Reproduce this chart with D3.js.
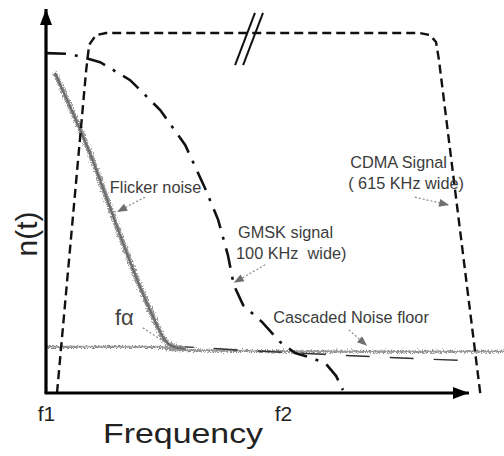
<!DOCTYPE html>
<html>
<head>
<meta charset="utf-8">
<script src="https://cdn.jsdelivr.net/npm/d3@7"></script>
<style>
body { margin: 0; background: #fff; }
text { font-family: "Liberation Sans", Arial, sans-serif; }
</style>
</head>
<body>
<script>
// frequency runs 0..100 (f1 = 0), level runs 0..100 (top of CDMA mask = 100)
var cdmaFreq  = [2.6, 9.5, 10.2, 11.8, 14.2, 88.4, 90.8, 92.2, 92.9, 102.8];
var cdmaLevel = [0, 89.7, 96.7, 99.4, 100, 100, 99.4, 97.5, 92.5, -1.4];

var gmskFreq  = [0, 5.7, 12.8, 19.9, 27.0, 32.9, 37.6, 40.7, 43.0, 44.4, 46.6, 51.1, 55.3, 58.9, 62.9, 66.2, 68.6, 70.2];
var gmskLevel = [94.4, 94.2, 91.9, 86.9, 78.6, 68.9, 56.9, 48.1, 38.3, 30.0, 24.4, 19.7, 14.2, 11.1, 9.7, 8.1, 4.7, 0.8];

var flickerFreq  = [2.1, 10.4, 16.8, 22.9, 26.5, 28.1, 29.8, 32.9];
var flickerLevel = [88.9, 67.5, 45.8, 27.2, 18.1, 14.2, 12.8, 12.2];

var floorFreq  = [0, 27.0, 30.5, 60.0, 108.3];
var floorLevel = [12.8, 12.8, 11.9, 11.5, 11.5];

// dark dashed continuation of the flicker corner under the floor
var tailFreq  = [29.3, 48.2, 83.7, 101.4];
var tailLevel = [13.1, 11.7, 9.7, 8.9];

var tickValues = [0, 56];
var tickLabels = ["f1", "f2"];
var xTitle = "Frequency";
var yTitle = "n(t)";

var labelTexts = [["Flicker noise"], ["GMSK signal", "100 KHz  wide)"], ["CDMA Signal", "( 615 KHz wide)"], ["Cascaded Noise floor"]];

var width = 504;
var height = 456;

var x = d3.scaleLinear().domain([0, 100]).range([46, 469]);
var y = d3.scaleLinear().domain([0, 100]).range([393, 33]);

var svg = d3.select("body").append("svg")
  .attr("width", width)
  .attr("height", height);

var defs = svg.append("defs");
// arrow heads
defs.append("marker").attr("id", "axisHead")
  .attr("viewBox", "0 0 16 12").attr("refX", 16).attr("refY", 6)
  .attr("markerWidth", 16).attr("markerHeight", 12)
  .attr("markerUnits", "userSpaceOnUse").attr("orient", "auto")
  .append("path").attr("d", "M0,0L16,6L0,12Z").attr("fill", "#000");
defs.append("marker").attr("id", "noteHead")
  .attr("viewBox", "0 0 10 8").attr("refX", 10).attr("refY", 4)
  .attr("markerWidth", 11).attr("markerHeight", 8)
  .attr("markerUnits", "userSpaceOnUse").attr("orient", "auto")
  .append("path").attr("d", "M0,0L10,4L0,8Z").attr("fill", "#6f6f6f");
// rough look for measured noise
var rough = defs.append("filter").attr("id", "rough")
  .attr("x", "-5%").attr("y", "-40%").attr("width", "110%").attr("height", "180%");
rough.append("feTurbulence").attr("type", "fractalNoise")
  .attr("baseFrequency", 0.8).attr("numOctaves", 2).attr("seed", 3).attr("result", "n");
rough.append("feDisplacementMap").attr("in", "SourceGraphic").attr("in2", "n")
  .attr("scale", 7).attr("xChannelSelector", "R").attr("yChannelSelector", "G");

var zip = function(a, b) { return a.map(function(v, i) { return [v, b[i]]; }); };
var line = d3.line().x(function(d) { return x(d[0]); }).y(function(d) { return y(d[1]); });
var smooth = d3.line().x(function(d) { return x(d[0]); }).y(function(d) { return y(d[1]); })
  .curve(d3.curveBasis);

// noise floor
var floor = zip(floorFreq, floorLevel);
svg.append("path").datum(floor)
  .attr("d", line).attr("fill", "none")
  .attr("stroke", "#8a8a8a").attr("stroke-width", 2.2)
  .attr("filter", "url(#rough)");
svg.append("path").datum(floor)
  .attr("d", line).attr("fill", "none")
  .attr("stroke", "#9a9a9a").attr("stroke-width", 1);
svg.append("path").datum(zip(tailFreq, tailLevel))
  .attr("d", smooth).attr("fill", "none")
  .attr("stroke", "#333").attr("stroke-width", 1.4)
  .attr("stroke-dasharray", "24,20");

// flicker noise
var flick = zip(flickerFreq, flickerLevel);
svg.append("path").datum(flick)
  .attr("d", smooth).attr("fill", "none")
  .attr("stroke", "#999").attr("stroke-width", 5)
  .attr("filter", "url(#rough)");
svg.append("path").datum(flick)
  .attr("d", smooth).attr("fill", "none")
  .attr("stroke", "#6a6a6a").attr("stroke-width", 2);

// CDMA mask
svg.append("path").datum(zip(cdmaFreq, cdmaLevel))
  .attr("d", line).attr("fill", "none")
  .attr("stroke", "#111").attr("stroke-width", 2.4)
  .attr("stroke-dasharray", "9,5");

// GMSK signal
svg.append("path").datum(zip(gmskFreq, gmskLevel))
  .attr("d", line).attr("fill", "none")
  .attr("stroke", "#111").attr("stroke-width", 2.6)
  .attr("stroke-dasharray", "20,9,3,9");

// frequency break mark
[44.7, 46.6].forEach(function(f) {
  svg.append("line")
    .attr("x1", x(f)).attr("y1", y(91.1))
    .attr("x2", x(f + 4.7)).attr("y2", y(105.6))
    .attr("stroke", "#111").attr("stroke-width", 2);
});

// axes
svg.append("line")
  .attr("x1", x(0)).attr("y1", y(0)).attr("x2", x(0)).attr("y2", y(106.7))
  .attr("stroke", "#000").attr("stroke-width", 3.2)
  .attr("marker-end", "url(#axisHead)");
svg.append("line")
  .attr("x1", x(0) - 1.5).attr("y1", y(0)).attr("x2", x(100)).attr("y2", y(0))
  .attr("stroke", "#000").attr("stroke-width", 3.2)
  .attr("marker-end", "url(#axisHead)");

var xAxis = d3.axisBottom(x).tickValues(tickValues).tickSize(0).tickPadding(13)
  .tickFormat(function(d, i) { return tickLabels[i]; });
var gx = svg.append("g").attr("transform", "translate(0," + y(0) + ")").call(xAxis);
gx.select(".domain").remove();
gx.selectAll("text").attr("font-size", 21).attr("fill", "#222")
  .attr("font-family", "Liberation Sans, Arial, sans-serif");

svg.append("text").attr("x", 103).attr("y", 443)
  .attr("font-size", 28).attr("fill", "#222")
  .attr("textLength", 160).attr("lengthAdjust", "spacingAndGlyphs")
  .text(xTitle);
svg.append("text")
  .attr("transform", "translate(37,234) rotate(-90)")
  .attr("text-anchor", "middle").attr("font-size", 30).attr("fill", "#222")
  .text(yTitle);

// annotations: label position, arrow start, arrow end (data units)
var notes = [
  { at: [15.1, 55.6], from: [23.4, 54.4], to: [16.8, 50.3] },
  { at: [45.4, 43.1], from: [51.8, 35.6], to: [44.4, 30.6] },
  { at: [71.9, 62.5], from: [87.2, 54.4], to: [95.3, 52.2] },
  { at: [53.7, 19.4], from: [71.6, 17.5], to: [75.9, 13.1] }
];
notes.forEach(function(n, i) {
  var t = svg.append("text").attr("x", x(n.at[0])).attr("y", y(n.at[1]))
    .attr("font-size", 16.3).attr("fill", "#3c3c3c");
  labelTexts[i].forEach(function(s, j) {
    t.append("tspan").attr("x", x(n.at[0]) - 2 * j).attr("dy", j ? 21 : 0)
      .attr("xml:space", "preserve").text(s);
  });
  svg.append("line")
    .attr("x1", x(n.from[0])).attr("y1", y(n.from[1]))
    .attr("x2", x(n.to[0])).attr("y2", y(n.to[1]))
    .attr("stroke", "#888").attr("stroke-width", 1.2)
    .attr("stroke-dasharray", "2,2")
    .attr("marker-end", "url(#noteHead)");
});

// f-alpha corner label
var fa = svg.append("text").attr("x", x(16.3)).attr("y", y(18.9))
  .attr("font-family", "Liberation Serif, serif").attr("font-size", 22).attr("fill", "#444");
fa.append("tspan").text("f");
fa.append("tspan").text("\u03b1");
svg.append("line")
  .attr("x1", x(22.9)).attr("y1", y(18.1)).attr("x2", x(27.7)).attr("y2", y(14.4))
  .attr("stroke", "#888").attr("stroke-width", 1.2).attr("stroke-dasharray", "2,2");
</script>
</body>
</html>
